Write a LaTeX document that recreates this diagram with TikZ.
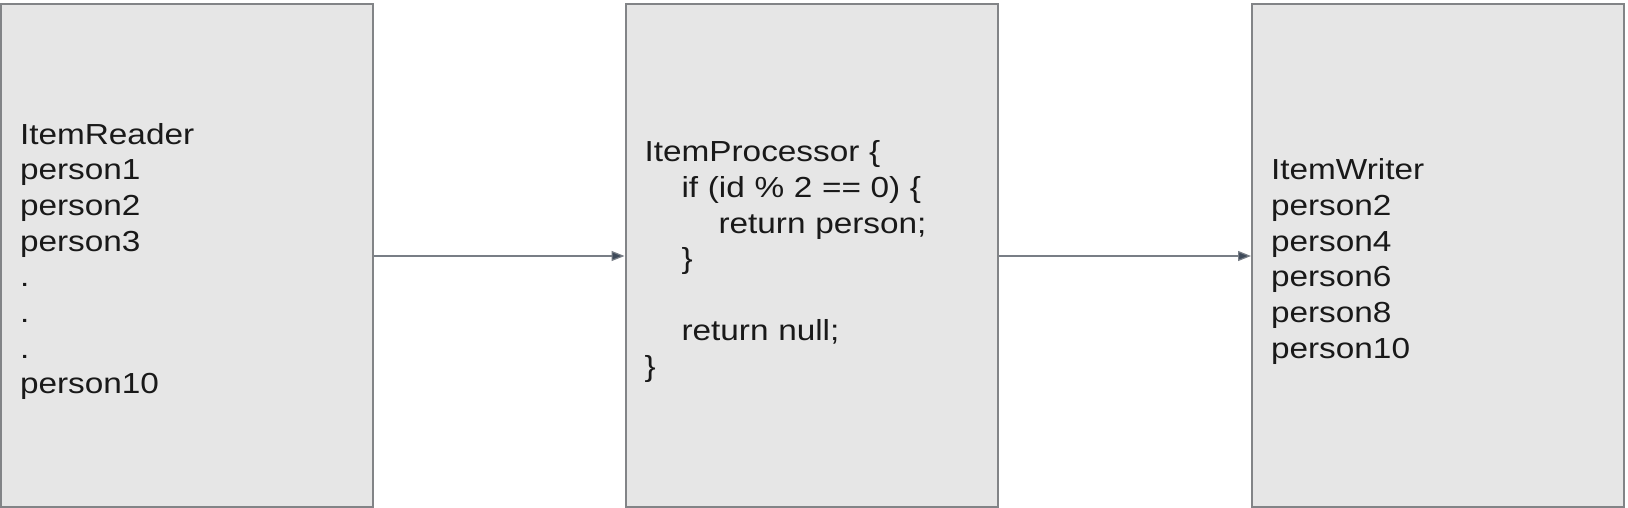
\documentclass[tikz,border=0pt]{standalone}
\usepackage{fontspec}
\setmainfont{Liberation Sans}[FakeStretch=1.15]
\usepackage{xcolor}
\usetikzlibrary{arrows.meta, positioning}
\definecolor{boxgray}{RGB}{230, 230, 230}
\definecolor{edgegray}{RGB}{130, 132, 135}
\definecolor{arrowgray}{RGB}{120, 126, 134}
\definecolor{tipslate}{RGB}{62, 74, 90}

\begin{document}
\begin{tikzpicture}[
    x=1pt, y=-1pt,
    stage/.style={draw=edgegray, line width=2pt, fill=boxgray,
                  minimum width=372pt, minimum height=503pt, inner sep=0pt,
                  text width=334pt, align=left, text=black!90,
                  font=\fontsize{29}{35.7}\selectfont,
                  execute at begin node={\rule{0pt}{33pt}}},
    flow/.style={draw=arrowgray, line width=1.2pt,
                 -{Triangle[length=13pt, width=10pt, fill=tipslate]}}
]
    \useasboundingbox (0,0) rectangle (1628,508);
    \node[stage] (reader) at (187,255.5) {ItemReader\\person1\\person2\\person3\\.\\.\\.\\person10};
    \node[stage] (processor) at (811.5,255.5) {ItemProcessor \{\\
        \hspace*{37pt}if (id \% 2 == 0) \{\\
        \hspace*{74pt}return person;\\
        \hspace*{37pt}\}\\[35.7pt]
        \hspace*{37pt}return null;\\
        \}};
    \node[stage] (writer) at (1438,255.5) {ItemWriter\\person2\\person4\\person6\\person8\\person10};

    \draw[flow] (reader.east |- 0,256) -- (processor.west |- 0,256);
    \draw[flow] (processor.east |- 0,256) -- (writer.west |- 0,256);
\end{tikzpicture}
\end{document}
